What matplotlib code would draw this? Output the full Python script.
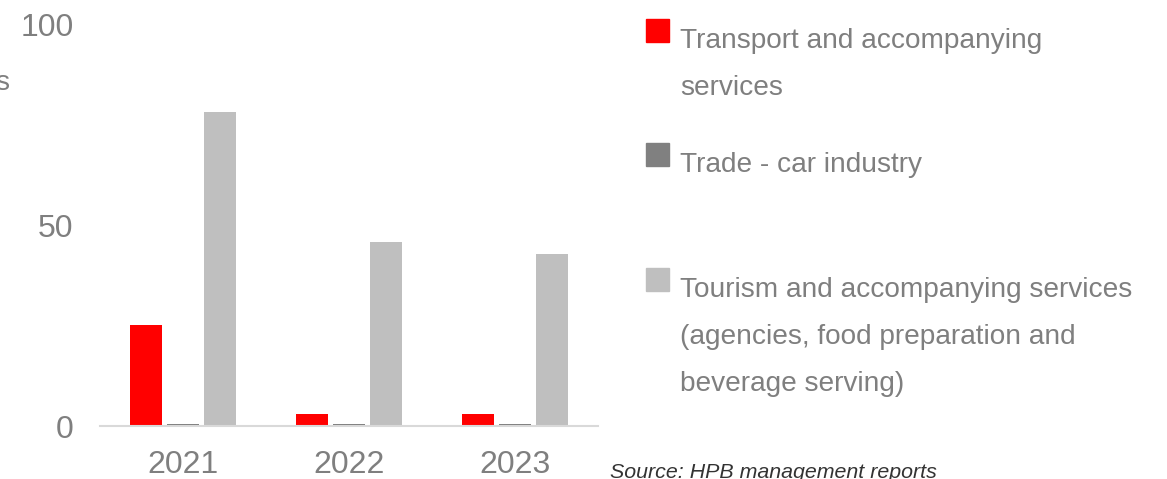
import matplotlib.pyplot as plt
from matplotlib.patches import Rectangle
import numpy as np

plt.rcParams['font.family'] = ['Liberation Sans', 'DejaVu Sans']

years = ['2021', '2022', '2023']
transport = [25.3, 3.0, 3.0]
trade_car = [0.4, 0.4, 0.4]
tourism = [78.3, 45.9, 43.0]

series = [transport, trade_car, tourism]
colors = ['#FF0000', '#808080', '#BFBFBF']
labels = ['Transport and accompanying\nservices',
          'Trade - car industry',
          'Tourism and accompanying services\n(agencies, food preparation and\nbeverage serving)']
text_grey = '#7F7F7F'

W, H = 1167, 479
fig = plt.figure(figsize=(W / 100, H / 100), dpi=100)
ax = fig.add_axes([100 / W, 1 - 426 / H, 498 / W, 401 / H])

x = np.arange(len(years))
width = 0.187
step = 0.223
for i, (vals, c) in enumerate(zip(series, colors)):
    ax.bar(x + (i - 1) * step, vals, width, color=c, zorder=2)

ax.set_xlim(-0.5, 2.5)
ax.set_ylim(0, 100)
ax.set_yticks([0, 50, 100])
ax.set_xticks(x)
ax.set_xticklabels(years)
ax.tick_params(axis='both', length=0, labelsize=23, labelcolor=text_grey)
ax.tick_params(axis='y', pad=19)
ax.tick_params(axis='x', pad=17)
for s in ['top', 'right', 'left']:
    ax.spines[s].set_visible(False)
ax.spines['bottom'].set_color('#D9D9D9')
ax.spines['bottom'].set_linewidth(1.5)

# unit label, mostly outside the left edge
fig.text(10 / W, 1 - 90 / H, 'EUR millions', ha='right', va='baseline',
         fontsize=20, color=text_grey)

# legend drawn by hand
legend_tops = [19, 143, 268]
for top, c, lab in zip(legend_tops, colors, labels):
    fig.patches.append(Rectangle((646 / W, 1 - (top + 23) / H), 23 / W, 23 / H,
                                 transform=fig.transFigure, color=c))
    fig.text(680 / W, 1 - (top + 9) / H, lab, ha='left', va='top',
             fontsize=20.2, color=text_grey, linespacing=2.05)

fig.text(610 / W, 1 - 478 / H, 'Source: HPB management reports', ha='left',
         va='baseline', fontsize=15.4, style='italic', color='#333333')

fig.savefig('out.png', dpi=100)
